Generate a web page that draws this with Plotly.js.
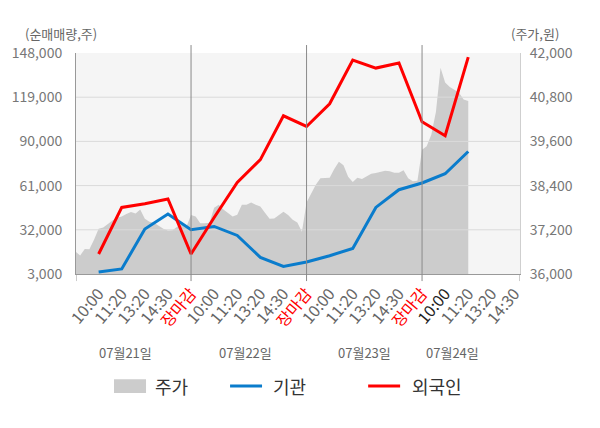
<!DOCTYPE html>
<html>
<head>
<meta charset="utf-8">
<script src="https://cdn.plot.ly/plotly-3.0.1.min.js"></script>
<style>
  html, body { margin: 0; padding: 0; background: #fff; }
  #chart { width: 600px; height: 428px; }
</style>
</head>
<body>
<div id="chart"></div>
<script>
'use strict';

// x is measured in label slots: slot 1 = first "10:00", each day = 5 slots
var tickSlots = [1, 2, 3, 4, 5, 6, 7, 8, 9, 10, 11, 12, 13, 14, 15, 16, 17, 18, 19];
var tickLabels = ['10:00', '11:20', '13:20', '14:30', '장마감',
                  '10:00', '11:20', '13:20', '14:30', '장마감',
                  '10:00', '11:20', '13:20', '14:30', '장마감',
                  '10:00', '11:20', '13:20', '14:30'];
var dayBreaks = [5, 10, 15];
var dateLabels = ['07월21일', '07월22일', '07월23일', '07월24일'];

// net buying (shares), one point per label slot
var flowSlots = [1, 2, 3, 4, 5, 6, 7, 8, 9, 10, 11, 12, 13, 14, 15, 16, 17];
var institution = [4300, 6300, 32500, 42400, 32100, 34200, 28300, 13900, 8000,
                   10900, 15000, 19800, 46700, 58300, 62700, 68800, 83400];
var foreigner = [16100, 46700, 49100, 52200, 16100, 40100, 63100, 78000, 106800,
                 99800, 114700, 143400, 138100, 141400, 102900, 93700, 145300];

// share price (won), read every 0.2 slot from slot 0 to 17
var price = [
  36610, 36500, 36680, 36670, 36930, 37230, 37260, 37360, 37450, 37530,
  37560, 37630, 37680, 37640, 37750, 37500, 37420, 37390, 37300, 37230,
  37180, 37190, 37280, 37360, 37280, 37600, 37560, 37380, 37380, 37390,
  37800, 37880, 37750, 37660, 37560, 37610, 37880, 37880, 37940, 37880,
  37830, 37660, 37500, 37510, 37600, 37690, 37600, 37470, 37400, 37150,
  37940, 38200, 38420, 38600, 38610, 38610, 38850, 39050, 38950, 38640,
  38500, 38610, 38580, 38640, 38720, 38740, 38760, 38800, 38790, 38750,
  38750, 38820, 38600, 38520, 38530, 39370, 39470, 39780, 40400, 41600,
  41200, 41080, 41000, 40920, 40740, 40700
];

var volTicks = [3000, 32000, 61000, 90000, 119000, 148000];
var priceTicks = [36000, 37200, 38400, 39600, 40800, 42000];

var FONT = 'Noto Sans CJK KR, Noto Sans, sans-serif';
var RED = '#ff0000';
var BLUE = '#0a7ccc';
var AREA = '#cccccc';
var X_RANGE = [0.02, 19.24];

var priceSlots = price.map(function(v, i) { return Math.round(i * 2) / 10; });

function colouredTicks() {
    return tickLabels.map(function(t, i) {
        if (t === '장마감')
            return '<span style="color:' + RED + '">' + t + '</span>';
        if (i === 15)
            return '<span style="color:#222">' + t + '</span>';
        return t;
    });
}

// grid drawn as a trace so it sits over the price area but under the lines
function gridTrace() {
    var gx = [], gy = [];
    priceTicks.slice(1, -1).forEach(function(v) {
        gx.push(X_RANGE[0], X_RANGE[1], null);
        gy.push(v, v, null);
    });
    return {
        x: gx, y: gy, yaxis: 'y', mode: 'lines',
        line: {color: '#dadada', width: 1},
        hoverinfo: 'skip', showlegend: false
    };
}

var traces = [
    {
        name: '주가', x: priceSlots, y: price, yaxis: 'y',
        type: 'scatter', mode: 'lines', fill: 'tozeroy',
        fillcolor: AREA, line: {width: 0, color: AREA}, showlegend: false
    },
    gridTrace(),
    {
        name: '기관', x: flowSlots, y: institution, yaxis: 'y2',
        type: 'scatter', mode: 'lines', line: {color: BLUE, width: 3}, showlegend: false
    },
    {
        name: '외국인', x: flowSlots, y: foreigner, yaxis: 'y2',
        type: 'scatter', mode: 'lines', line: {color: RED, width: 3}, showlegend: false
    }
];

var shapes = [];
dayBreaks.forEach(function(s) {
    shapes.push({type: 'line', xref: 'x', yref: 'paper', x0: s, x1: s, y0: -0.032, y1: 1.036,
                 line: {color: '#8a8a8a', width: 1}, layer: 'above'});
});
X_RANGE.forEach(function(s) {
    shapes.push({type: 'line', xref: 'x', yref: 'paper', x0: s, x1: s, y0: -0.032, y1: 0,
                 line: {color: '#999', width: 1}});
});

var annotations = [
    {text: '(순매매량,주)', xref: 'paper', yref: 'paper', x: -0.119, y: 1.09,
     xanchor: 'left', yanchor: 'middle', showarrow: false, font: {family: FONT, size: 13, color: '#666'}},
    {text: '(주가,원)', xref: 'paper', yref: 'paper', x: 0.975, y: 1.09,
     xanchor: 'left', yanchor: 'middle', showarrow: false, font: {family: FONT, size: 13, color: '#666'}}
];
var datePos = [2.15, 7.35, 12.5, 16.3];
dateLabels.forEach(function(d, i) {
    annotations.push({text: d, xref: 'x', yref: 'paper', x: datePos[i], y: -0.357,
                      xanchor: 'center', yanchor: 'middle', showarrow: false,
                      font: {family: FONT, size: 13, color: '#666'}});
});

// legend row
var legendItems = [
    {label: '주가', kind: 'box', color: AREA, x0: 0.0856, x1: 0.1577, tx: 0.1734},
    {label: '기관', kind: 'line', color: BLUE, x0: 0.347, x1: 0.419, tx: 0.439},
    {label: '외국인', kind: 'line', color: RED, x0: 0.658, x1: 0.730, tx: 0.752}
];
var LEG_Y = -0.507;
legendItems.forEach(function(it) {
    if (it.kind === 'box')
        shapes.push({type: 'rect', xref: 'paper', yref: 'paper', x0: it.x0, x1: it.x1,
                     y0: LEG_Y - 0.031, y1: LEG_Y + 0.031, fillcolor: it.color, line: {width: 0}});
    else
        shapes.push({type: 'line', xref: 'paper', yref: 'paper', x0: it.x0, x1: it.x1,
                     y0: LEG_Y, y1: LEG_Y, line: {color: it.color, width: 3}});
    annotations.push({text: it.label, xref: 'paper', yref: 'paper', x: it.tx, y: LEG_Y,
                      xanchor: 'left', yanchor: 'middle', showarrow: false,
                      font: {family: FONT, size: 18, color: '#333'}});
});

var layout = {
    width: 600, height: 428,
    margin: {l: 76, r: 80, t: 53, b: 154, pad: 0},
    paper_bgcolor: '#ffffff',
    plot_bgcolor: '#f5f5f5',
    font: {family: FONT, size: 14, color: '#666'},
    showlegend: false,
    xaxis: {
        range: X_RANGE, tickmode: 'array', tickvals: tickSlots, ticktext: colouredTicks(),
        tickangle: -50, tickfont: {family: FONT, size: 16, color: '#666'},
        showgrid: false, zeroline: false, showline: true, linecolor: '#999', linewidth: 1,
        ticks: '', ticklabelstandoff: 3, fixedrange: true
    },
    yaxis: {
        side: 'right', range: [priceTicks[0], priceTicks[priceTicks.length - 1]],
        tickmode: 'array', tickvals: priceTicks, tickformat: ',d',
        tickfont: {family: FONT, size: 14, color: '#777'},
        showgrid: false, zeroline: false, showline: true, linecolor: '#cfcfcf',
        ticks: '', ticklabelstandoff: 6, fixedrange: true
    },
    yaxis2: {
        overlaying: 'y', side: 'left', range: [volTicks[0], volTicks[volTicks.length - 1]],
        tickmode: 'array', tickvals: volTicks, tickformat: ',d',
        tickfont: {family: FONT, size: 14, color: '#777'},
        showgrid: false, zeroline: false, showline: true, linecolor: '#999',
        ticks: '', ticklabelstandoff: 10, fixedrange: true
    },
    shapes: shapes,
    annotations: annotations
};

Plotly.newPlot('chart', traces, layout, {displayModeBar: false, staticPlot: true});
</script>
</body>
</html>
